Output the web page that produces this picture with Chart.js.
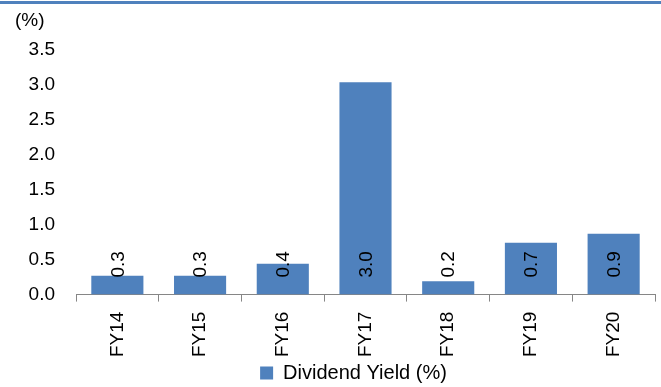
<!DOCTYPE html>
<html>
<head>
<meta charset="utf-8">
<script src="https://cdn.jsdelivr.net/npm/chart.js@4/dist/chart.umd.min.js"></script>
<style>
html,body{margin:0;padding:0;background:#fff;}
#wrap{position:relative;width:661px;height:387px;}
#topline{position:absolute;left:0;top:1px;width:661px;height:3px;background:#4f81bd;}
canvas{position:absolute;left:0;top:0;}
</style>
</head>
<body>
<div id="wrap">
<canvas id="c" width="661" height="387"></canvas>
<div id="topline"></div>
</div>
<script>
const categories = ['FY14','FY15','FY16','FY17','FY18','FY19','FY20'];
const dividendYield = [0.27, 0.27, 0.44, 3.04, 0.19, 0.74, 0.87];
const seriesName = 'Dividend Yield (%)';
const unitLabel = '(%)';
const FONT = '"Liberation Sans", Arial, sans-serif';

const labelPlugin = {
  id: 'barLabels',
  afterLayout(chart) {
    if (chart.legend) { chart.legend.left += 52; }
  },
  afterDatasetsDraw(chart) {
    const ctx = chart.ctx;
    const meta = chart.getDatasetMeta(0);
    const y0 = chart.scales.y.getPixelForValue(0);
    ctx.save();
    ctx.font = '19px ' + FONT;
    ctx.fillStyle = '#000';
    ctx.textAlign = 'left';
    ctx.textBaseline = 'middle';
    meta.data.forEach((bar, i) => {
      ctx.save();
      ctx.translate(bar.x + 1, y0 - 17);
      ctx.rotate(-Math.PI / 2);
      ctx.fillText(dividendYield[i].toFixed(1), 0, 0);
      ctx.restore();
    });
    ctx.textBaseline = 'middle';
    ctx.fillText(unitLabel, 15, 21);
    ctx.restore();
  }
};

new Chart(document.getElementById('c'), {
  type: 'bar',
  data: {
    labels: categories,
    datasets: [{
      label: seriesName,
      data: dividendYield,
      backgroundColor: '#4f81bd',
      borderWidth: 0,
      categoryPercentage: 1,
      barPercentage: 0.63
    }]
  },
  options: {
    responsive: false,
    animation: false,
    layout: { padding: { left: 0, right: 6, top: 50, bottom: -6 } },
    plugins: {
      tooltip: { enabled: false },
      legend: {
        position: 'bottom',
        labels: {
          font: { family: FONT, size: 20 },
          color: '#000',
          boxWidth: 13,
          boxHeight: 13,
          padding: 0
        }
      }
    },
    scales: {
      x: {
        offset: true,
        afterFit(scale) { scale.height -= 4; },
        grid: { display: true, drawOnChartArea: false, drawTicks: true, tickLength: 7, color: '#868686', offset: true },
        border: { display: true, color: '#868686', width: 1 },
        ticks: { font: { family: FONT, size: 19 }, color: '#000', minRotation: 90, maxRotation: 90, padding: 10 }
      },
      y: {
        min: 0, max: 3.5,
        afterFit(scale) { scale.width = 76; },
        grid: { display: false, drawTicks: false },
        border: { display: false },
        ticks: {
          stepSize: 0.5,
          font: { family: FONT, size: 19 },
          color: '#000',
          padding: 21,
          callback: v => Number(v).toFixed(1)
        }
      }
    }
  },
  plugins: [labelPlugin]
});
</script>
</body>
</html>
